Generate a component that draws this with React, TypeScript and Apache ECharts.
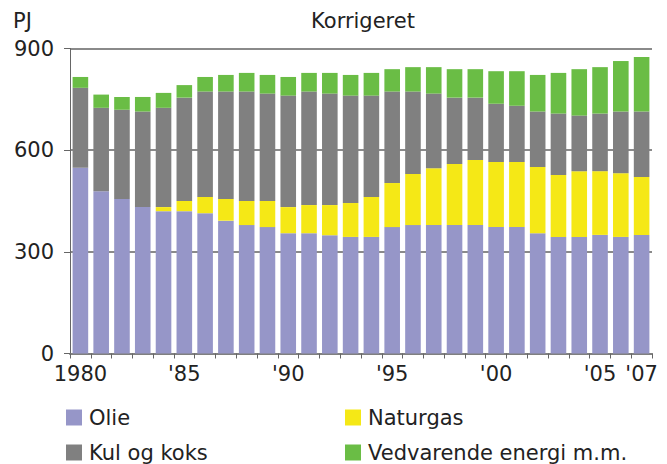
import React, { useEffect, useRef } from "react";
import * as echarts from "echarts";

const years = [
  "1980", "1981", "1982", "1983", "1984", "1985", "1986", "1987", "1988", "1989",
  "1990", "1991", "1992", "1993", "1994", "1995", "1996", "1997", "1998", "1999",
  "2000", "2001", "2002", "2003", "2004", "2005", "2006", "2007",
];
const shownLabels: Record<string, string> = {
  "1980": "1980", "1985": "'85", "1990": "'90", "1995": "'95",
  "2000": "'00", "2005": "'05", "2007": "'07",
};
const olie = [548, 479, 456, 432, 420, 420, 414, 392, 379, 373, 355, 355, 349, 344, 344, 373, 379, 379, 379, 379, 373, 373, 355, 344, 344, 350, 344, 350];
const naturgas = [0, 0, 0, 0, 12, 30, 48, 64, 71, 77, 77, 83, 89, 100, 118, 130, 151, 168, 180, 192, 192, 192, 195, 183, 194, 188, 188, 171];
const kul = [236, 246, 263, 282, 293, 305, 311, 317, 323, 317, 329, 335, 329, 317, 299, 270, 243, 220, 196, 184, 172, 166, 164, 181, 164, 170, 182, 193];
const vedvarende = [32, 39, 38, 43, 44, 37, 43, 49, 55, 55, 55, 55, 61, 61, 67, 66, 72, 78, 84, 84, 96, 102, 108, 120, 137, 137, 149, 161];

const FONT = "DejaVu Sans, Verdana, sans-serif";
const TXT = "#222222";

export default function App() {
  const ref = useRef<HTMLDivElement>(null);
  useEffect(() => {
    if (!ref.current) return;
    const chart = echarts.init(ref.current, null, { renderer: "svg" });
    const bar = (name: string, data: number[], color: string) => ({
      name,
      type: "bar",
      stack: "total",
      data,
      barCategoryGap: "25%",
      itemStyle: { color },
      emphasis: { disabled: true },
    });
    const leg = (name: string, left: number, top: number) => ({
      data: [name],
      left,
      top,
      padding: 0,
      itemWidth: 16,
      itemHeight: 16,
      icon: "rect",
      selectedMode: false,
      textStyle: { fontSize: 21, color: TXT, fontFamily: FONT, lineHeight: 16, padding: [0, 0, 0, 2] },
    });
    chart.setOption({
      animation: false,
      textStyle: { fontFamily: FONT },
      grid: { left: 70, right: 15, top: 48.5, bottom: 110.5, containLabel: false },
      graphic: [
        { type: "text", left: 13, top: 10, style: { text: "PJ", font: `21px ${FONT}`, fill: TXT } },
        { type: "text", x: 363, y: 10, style: { text: "Korrigeret", font: `21px ${FONT}`, fill: TXT, textAlign: "center", textVerticalAlign: "top" } },
      ],
      legend: [
        leg("Olie", 66, 407),
        leg("Kul og koks", 66, 442),
        leg("Naturgas", 345, 407),
        leg("Vedvarende energi m.m.", 345, 442),
      ],
      xAxis: {
        type: "category",
        data: years,
        axisLine: { show: true, lineStyle: { color: "#808080", width: 2 } },
        axisTick: { show: true, interval: 0, length: 5, lineStyle: { color: "#666666", width: 1 } },
        axisLabel: {
          interval: (i: number) => shownLabels[years[i]] !== undefined,
          formatter: (v: string) => shownLabels[v] ?? "",
          fontSize: 21,
          color: TXT,
          fontFamily: FONT,
          margin: 10,
        },
      },
      yAxis: {
        type: "value",
        min: 0,
        max: 900,
        interval: 300,
        axisLine: { show: true, lineStyle: { color: "#666666", width: 1 } },
        axisTick: { show: true, length: 6, lineStyle: { color: "#666666" } },
        axisLabel: { fontSize: 21, color: TXT, fontFamily: FONT, margin: 16 },
        splitLine: { show: true, lineStyle: { color: "#8a8a8a", width: 2 } },
      },
      series: [
        bar("Olie", olie, "#9696C8"),
        bar("Naturgas", naturgas, "#F5E816"),
        bar("Kul og koks", kul, "#808080"),
        bar("Vedvarende energi m.m.", vedvarende, "#6ABD45"),
      ],
    });
    return () => chart.dispose();
  }, []);
  return <div ref={ref} style={{ width: 667, height: 464, position: "absolute", left: 0, top: 0 }} />;
}
